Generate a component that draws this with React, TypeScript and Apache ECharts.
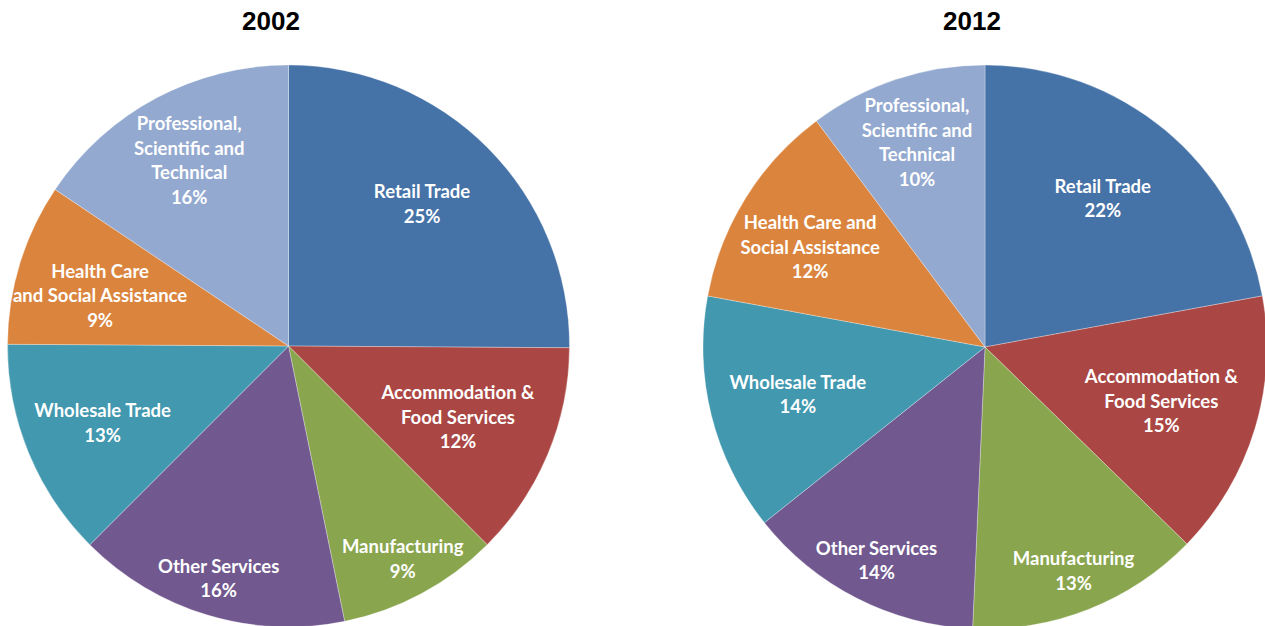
import React, { useEffect, useRef } from "react";
import * as echarts from "echarts";

const years = ["2002", "2012"];
const categories = [
  "Retail Trade",
  "Accommodation & Food Services",
  "Manufacturing",
  "Other Services",
  "Wholesale Trade",
  "Health Care and Social Assistance",
  "Professional, Scientific and Technical",
];
const values2002 = [25.1, 12.4, 9.3, 15.7, 12.6, 9.3, 15.6];
const values2012 = [22.1, 15.2, 13.4, 13.6, 13.6, 11.9, 10.2];
const labels2002 = [
  "Retail Trade",
  "Accommodation &\nFood Services",
  "Manufacturing",
  "Other Services",
  "Wholesale Trade",
  "Health Care\nand Social Assistance",
  "Professional,\nScientific and\nTechnical",
];
const labels2012 = [
  "Retail Trade",
  "Accommodation &\nFood Services",
  "Manufacturing",
  "Other Services",
  "Wholesale Trade",
  "Health Care and\nSocial Assistance",
  "Professional,\nScientific and\nTechnical",
];

const colors = ["#4572A7", "#AA4643", "#89A54E", "#71588F", "#4198AF", "#DB843D", "#93A9CF"];

// layout only: label distance from the centre (fraction of radius) and a small angular nudge (degrees)
const pies = [
  {
    center: [288.5, 346],
    radius: 281,
    titleX: 271,
    values: values2002,
    labels: labels2002,
    labelRatio: [0.68, 0.64, 0.84, 0.845, 0.7, 0.68, 0.735],
    labelShift: [-2, 0, 0, 0, 0, -2, 0],
  },
  {
    center: [985, 347],
    radius: 282,
    titleX: 972,
    values: values2012,
    labels: labels2012,
    labelRatio: [0.66, 0.64, 0.835, 0.83, 0.67, 0.7, 0.75],
    labelShift: [-1.5, 0, 0, 0, 0, -2, 0],
  },
];

export default function App() {
  const ref = useRef<HTMLDivElement>(null);
  useEffect(() => {
    if (!ref.current) return;
    const chart = echarts.init(ref.current, undefined, { renderer: "svg" });
    const option: any = {
      animation: false,
      title: pies.map((p, k) => ({
        text: years[k],
        left: p.titleX,
        top: 8,
        padding: 0,
        textAlign: "center",
        textStyle: {
          fontFamily: "Liberation Sans, Arial, sans-serif",
          fontWeight: "bold",
          fontSize: 26,
          color: "#000",
        },
      })),
      series: pies.map((p, k) => ({
        type: "pie",
        name: years[k],
        center: p.center,
        radius: [0, p.radius],
        startAngle: 90,
        clockwise: true,
        silent: true,
        avoidLabelOverlap: false,
        itemStyle: { borderColor: "rgba(255,255,255,0.5)", borderWidth: 0.6 },
        label: {
          show: true,
          position: "inside",
          color: "#fff",
          fontFamily: "Lato, sans-serif",
          fontWeight: "bold",
          fontSize: 18.5,
          lineHeight: 24.5,
          align: "center",
          formatter: (prm: any) => `${p.labels[prm.dataIndex]}\n${Math.round(prm.percent)}%`,
        },
        labelLine: { show: false },
        labelLayout: (prm: any) => {
          const r = prm.labelRect;
          const i = prm.dataIndex;
          const f = 2 * p.labelRatio[i];
          const vx = (r.x + r.width / 2 - p.center[0]) * f;
          const vy = (r.y + r.height / 2 - p.center[1]) * f;
          const a = (p.labelShift[i] * Math.PI) / 180;
          return {
            x: p.center[0] + vx * Math.cos(a) - vy * Math.sin(a),
            y: p.center[1] + vx * Math.sin(a) + vy * Math.cos(a),
          };
        },
        data: categories.map((c, i) => ({
          name: c,
          value: p.values[i],
          itemStyle: { color: colors[i] },
        })),
      })),
    };
    chart.setOption(option);
    return () => chart.dispose();
  }, []);
  return (
    <div
      ref={ref}
      style={{ position: "fixed", left: 0, top: 0, width: 1265, height: 626, background: "#fff" }}
    />
  );
}
